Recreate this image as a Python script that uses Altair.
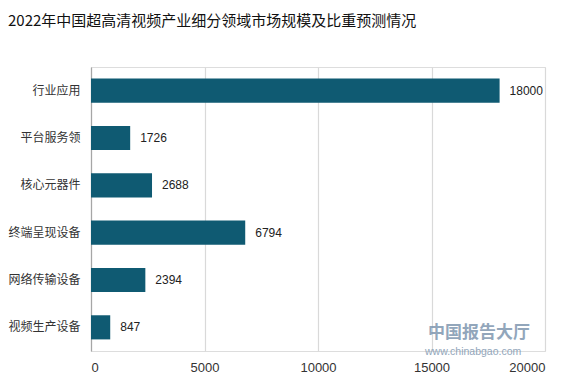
import altair as alt
import pandas as pd

categories = ["行业应用", "平台服务领", "核心元器件", "终端呈现设备", "网络传输设备", "视频生产设备"]
values = [18000, 1726, 2688, 6794, 2394, 847]
x_ticks = [0, 5000, 10000, 15000, 20000]

df = pd.DataFrame({"cat": categories, "val": values})
FONT = "Liberation Sans"

x_enc = alt.X("val:Q", scale=alt.Scale(domain=[0, 20000], nice=False),
              axis=alt.Axis(values=x_ticks, format="d", title=None, domain=False, ticks=False,
                            gridColor="#d9d9d9", gridWidth=1.2, labelFontSize=13,
                            labelColor="#333333", labelPadding=10, labelFont=FONT))
y_enc = alt.Y("cat:N", sort=categories,
              scale=alt.Scale(paddingInner=0.49, paddingOuter=0.245),
              axis=alt.Axis(title=None, ticks=False, domainColor="#a6a6a6", domainWidth=1.2,
                            labelFontSize=12, labelColor="#333333", labelPadding=11,
                            labelFont="Noto Sans CJK SC", grid=False))

bars = alt.Chart(df).mark_bar(color="#0f5a72").encode(x=x_enc, y=y_enc)
labels = alt.Chart(df).mark_text(align="left", dx=10, fontSize=12, color="#222222",
                                 font=FONT).encode(
    x="val:Q", y=alt.Y("cat:N", sort=categories), text="val:Q")

wm1 = alt.Chart(pd.DataFrame({"t": ["中国报告大厅"]})).mark_text(
    align="left", baseline="middle", fontSize=17, color="#7f97b0", font="Noto Sans CJK SC",
    opacity=0.85, fontWeight="bold"
).encode(x=alt.value(337), y=alt.value(266), text="t:N")
wm2 = alt.Chart(pd.DataFrame({"t": ["www.chinabgao.com"]})).mark_text(
    align="left", baseline="middle", fontSize=10.5, color="#7f97b0", font=FONT, opacity=0.85
).encode(x=alt.value(334), y=alt.value(285), text="t:N")

chart = alt.layer(bars, labels, wm1, wm2).properties(
    width=454, height=284,
    title=alt.TitleParams("2022年中国超高清视频产业细分领域市场规模及比重预测情况",
                          anchor="start", frame="group", fontSize=15, fontWeight="normal",
                          font="Noto Sans CJK SC", color="#111111", dx=-83, offset=38),
    autosize=alt.AutoSizeParams(type="none"),
    padding={"left": 91, "top": 67, "right": 28, "bottom": 27},
).configure_view(stroke=None).configure(background="white")

chart.save("out.html", embed_options={"renderer": "svg", "actions": False})
